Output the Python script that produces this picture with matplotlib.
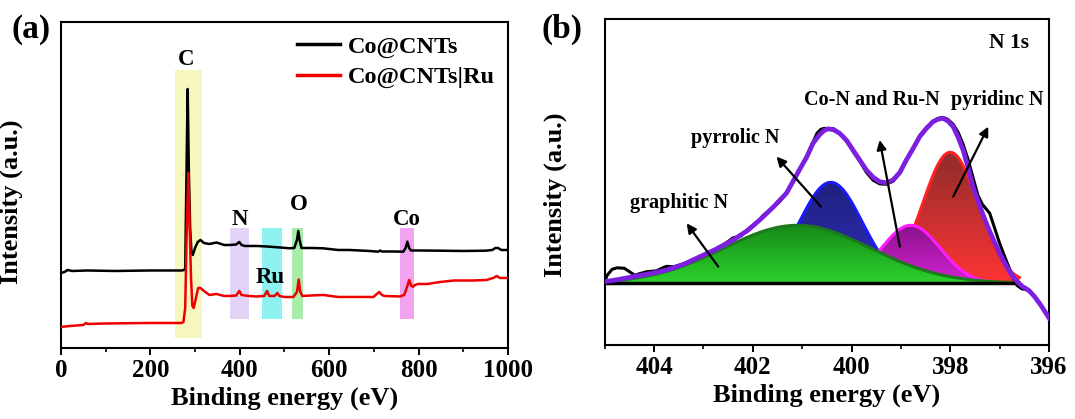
import matplotlib
matplotlib.use("Agg")
import matplotlib.pyplot as plt
import numpy as np
from matplotlib.ticker import MultipleLocator
from matplotlib.colors import LinearSegmentedColormap

plt.rcParams['font.family'] = ['Liberation Serif', 'DejaVu Serif']
plt.rcParams['font.weight'] = 'bold'
plt.rcParams['axes.labelweight'] = 'bold'

# ---- (a) survey spectra ----
survey_e_black = [0, 8, 15, 25, 60, 120, 200, 270, 276, 278, 281, 283.5, 286, 289, 292, 295,
                  300, 306, 312, 320, 332, 348, 365, 378, 392, 399, 404, 411, 440, 460, 490,
                  512, 522, 528, 531, 534, 538, 560, 586, 620, 646, 690, 710, 714, 718, 740,
                  766, 771, 775, 779, 783, 800, 848, 900, 950, 965, 972, 978, 985, 1000]
survey_i_black = [75, 76, 78, 77, 77.5, 77, 77.5, 77.5, 78, 80, 180, 259, 180, 120, 96, 93,
                  100, 106, 108, 105, 104, 105.5, 103, 103, 103.5, 106, 103, 102, 102, 101.5, 100.5,
                  99.7, 100, 108, 117, 108, 100, 100, 99.7, 98, 98, 97, 96.3, 97.5, 96.5, 96.5,
                  96.3, 100, 106.3, 100, 97.5, 97.5, 97.3, 97, 97.3, 98, 100, 100, 98, 98]

survey_e_red = [0, 20, 50, 56, 60, 100, 200, 270, 274, 278, 281, 285, 288, 291, 294, 297,
                302, 307, 312, 320, 332, 348, 365, 378, 392, 399, 404, 420, 438, 455, 461,
                466, 478, 484, 489, 500, 520, 528, 532, 535, 540, 560, 587, 620, 646, 699,
                712, 718, 724, 758, 768, 775, 779, 784, 788, 792, 799, 820, 848, 880, 922,
                952, 967, 975, 982, 1000]
survey_i_red = [21, 22, 23, 25, 24, 24.5, 25, 25, 26, 40, 110, 175, 120, 70, 42, 40,
                50, 60, 60, 57, 53, 54, 52, 52, 52.5, 57, 53, 52, 51.5, 52, 57,
                52, 52, 55, 52, 51, 51, 56, 68.5, 57, 52, 52.5, 53, 51, 51, 51,
                56, 53, 52, 51.5, 53, 62, 68, 62, 61.3, 63, 64, 64, 66, 67.5, 67.5,
                68, 70, 72, 70, 70]

# element regions: label, start, end, colour
band_names = ['C', 'N', 'Ru', 'O', 'Co']
band_start = [255, 378, 449, 517, 758]
band_end = [315, 421, 495, 542, 790]
band_colors = ['#f6f6bf', '#e3d3f7', '#8ff2f2', '#a9eba9', '#f2a3f0']
label_pos = [(281, 288), (399, 128), (469, 70), (532, 143), (773, 128)]

# ---- (b) N 1s high resolution ----
n1s_e_raw = [405.0, 404.95, 404.85, 404.75, 404.6, 404.48, 404.39, 404.3, 404.16, 403.95,
             403.8, 403.74, 403.6, 403.4, 403.2, 403.07, 402.9, 402.75, 402.55, 402.4,
             402.25, 402.1, 401.95, 401.86, 401.79, 401.7, 401.59, 401.45, 401.32, 401.15,
             401.05, 400.91, 400.78, 400.7, 400.62, 400.55, 400.47, 400.36, 400.24, 400.1,
             399.97, 399.83, 399.7, 399.56, 399.43, 399.3, 399.16, 399.02, 398.89, 398.75,
             398.62, 398.48, 398.35, 398.25, 398.15, 398.05, 397.94, 397.84, 397.74, 397.64,
             397.54, 397.44, 397.35, 397.2, 397.1, 397.0, 396.86, 396.73, 396.65, 396.55,
             396.45, 396.35, 396.2, 396.0]
n1s_i_raw = [2, 8, 14, 15.5, 15, 11, 8, 9.5, 11.5, 12.5,
             16, 17, 16.5, 19.5, 23, 27, 30, 34, 40, 45.5,
             47, 54, 60, 63.5, 68, 71, 76, 82, 90, 104,
             114, 127, 141, 150, 154, 155, 154.5, 154.5, 150, 142,
             132, 122, 111, 103, 99.5, 99, 102, 110, 122.5, 135.5,
             147.5, 156, 162, 165, 166, 164, 159, 151, 139, 124,
             106, 88, 79, 70, 55, 40, 22, 6, -2, -5.5,
             -6.5, -10, -19, -34.7]

n1s_e_env = [405.0, 404.7, 404.42, 404.1, 403.74, 403.4, 403.07, 402.75, 402.4, 402.1,
             401.86, 401.59, 401.32, 401.15, 401.05, 400.91, 400.78, 400.64, 400.55, 400.47,
             400.36, 400.24, 400.1, 399.97, 399.83, 399.7, 399.56, 399.43, 399.3, 399.16,
             399.02, 398.89, 398.75, 398.62, 398.48, 398.35, 398.25, 398.15, 398.05, 397.94,
             397.84, 397.74, 397.64, 397.54, 397.4, 397.27, 397.13, 397.0, 396.86, 396.73,
             396.63, 396.53, 396.41, 396.29, 396.15, 396.0]
n1s_i_env = [1.6, 4, 6.6, 9.5, 13.3, 19, 26.6, 34, 43.3, 53,
             63.3, 76, 90, 105, 114, 126, 140, 149, 153, 154.5,
             153.5, 150, 143, 133.3, 123, 113.3, 106, 101.6, 100.5, 103.3,
             111, 123.3, 135, 146.6, 155, 161.6, 164, 165, 162.5, 156.6,
             146, 133.3, 116, 96.6, 77, 60, 44, 30, 17, 6.6,
             1, -3.4, -7, -13.4, -23, -34.7]

# fitted components: centre (eV), FWHM (eV), height (a.u.)
peak_names = ['graphitic N', 'pyrrolic N', 'Co-N and Ru-N', 'pyridinc N']
peak_center = [401.1, 400.42, 398.8, 398.0]
peak_fwhm = [3.5, 1.5, 1.4, 1.32]
peak_height = [58, 101, 58, 131]
peak_top = ['#178a17', '#20207f', '#8a128a', '#8f2c2c']
peak_bottom = ['#2cd22c', '#2e2eb8', '#d422d4', '#ff3434']
peak_edge = ['#1c7a1c', '#1a1aff', '#ff1aff', '#ff2020']
peak_z = [5, 3, 4, 2]


def gradient_fill(ax, x, y, c_top, c_bottom, z):
    poly = ax.fill_between(x, 0, y, color='none', lw=0, zorder=z)
    cmap = LinearSegmentedColormap.from_list('g', [c_top, c_bottom])
    grad = np.linspace(0, 1, 256).reshape(-1, 1)
    im = ax.imshow(grad, aspect='auto', cmap=cmap, origin='upper',
                   extent=[x.min(), x.max(), 0, y.max()], zorder=z)
    im.set_clip_path(poly.get_paths()[0], transform=ax.transData)


fig = plt.figure(figsize=(10.75, 4.19), dpi=100)
ax1 = fig.add_axes([0.0567, 0.1695, 0.4158, 0.778])
ax2 = fig.add_axes([0.5625, 0.1766, 0.4133, 0.7773])

for ax in (ax1, ax2):
    for sp in ax.spines.values():
        sp.set_linewidth(1.5)
    ax.tick_params(axis='x', direction='out', length=5, width=1.4, labelsize=18, pad=3)
    ax.tick_params(axis='x', which='minor', direction='out', length=3, width=1.2)
    ax.set_yticks([])
    ax.set_ylabel('Intensity (a.u.)', fontsize=19)
    ax.set_xlabel('Binding energy (eV)', fontsize=19, labelpad=3)

# panel a
for name, s, e, c in zip(band_names, band_start, band_end, band_colors):
    top = 278 if name == 'C' else 119.5
    bottom = 10 if name == 'C' else 28.5
    ax1.fill_between([s, e], bottom, top, color=c, lw=0, zorder=1)
for name, (x, y) in zip(band_names, label_pos):
    ax1.text(x, y, name, ha='center', va='center', fontsize=16.5, zorder=5)

ax1.plot(survey_e_black, survey_i_black, color='black', lw=1.8, label='Co@CNTs', zorder=3)
ax1.plot(survey_e_red, survey_i_red, color='#ee0000', lw=1.8, label='Co@CNTs|Ru', zorder=4)
ax1.set_xlim(0, 1000)
ax1.set_ylim(0, 326)
ax1.xaxis.set_major_locator(MultipleLocator(200))
ax1.xaxis.set_minor_locator(MultipleLocator(100))
leg = ax1.legend(loc='upper right', frameon=False, fontsize=17.5, handlelength=1.8,
                 handletextpad=0.3, labelspacing=0.35, borderaxespad=0.15)
for ln in leg.get_lines():
    ln.set_linewidth(2.5)
ax1.yaxis.set_label_coords(-0.085, 0.45)
fig.text(0.011, 0.93, '(a)', fontsize=24, ha='left', va='center')

# panel b
e_grid = np.linspace(405, 396.6, 400)
for c, w, h, ct, cb, ec, z in zip(peak_center, peak_fwhm, peak_height, peak_top,
                                  peak_bottom, peak_edge, peak_z):
    sig = w / 2.3548
    comp = h * np.exp(-(e_grid - c) ** 2 / (2 * sig ** 2))
    gradient_fill(ax2, e_grid, comp, ct, cb, z)
    ax2.plot(e_grid, comp, color=ec, lw=2.2, zorder=z + 0.1)

ax2.plot([405, 396.7], [0, 0], color='black', lw=2.5, zorder=6)
ax2.plot(n1s_e_raw, n1s_i_raw, color='black', lw=2.2, zorder=7, solid_joinstyle='round')
ax2.plot(n1s_e_env, n1s_i_env, color='#7d1fe0', lw=3.4, zorder=8, solid_joinstyle='round')

ax2.set_xlim(405, 396)
ax2.set_ylim(-61.7, 264)
ax2.xaxis.set_major_locator(MultipleLocator(2))
ax2.xaxis.set_minor_locator(MultipleLocator(1))
ax2.yaxis.set_label_coords(-0.085, 0.46)

ax2.text(396.81, 240.6, 'N 1s', fontsize=15.5, ha='center', va='center')
ax2.text(403.49, 80, 'graphitic N', fontsize=14.5, ha='center', va='center')
ax2.text(402.36, 145, 'pyrrolic N', fontsize=14.5, ha='center', va='center')
ax2.text(399.58, 183.3, 'Co-N and Ru-N', fontsize=14.5, ha='center', va='center')
ax2.text(397.05, 183.3, 'pyridinc N', fontsize=14.5, ha='center', va='center')

arrows = [((402.7, 16.7), (403.34, 60)),
          ((400.62, 76.7), (401.52, 126.7)),
          ((399.02, 36.7), (399.43, 143.3)),
          ((397.94, 86.7), (397.23, 156.7))]
for tail, head in arrows:
    ax2.annotate('', xy=head, xytext=tail, zorder=9,
                 arrowprops=dict(arrowstyle='-|>', color='black', lw=1.6,
                                 mutation_scale=14, shrinkA=0, shrinkB=0))
fig.text(0.504, 0.93, '(b)', fontsize=24, ha='left', va='center')

fig.savefig('out.png', dpi=100, facecolor='white')
